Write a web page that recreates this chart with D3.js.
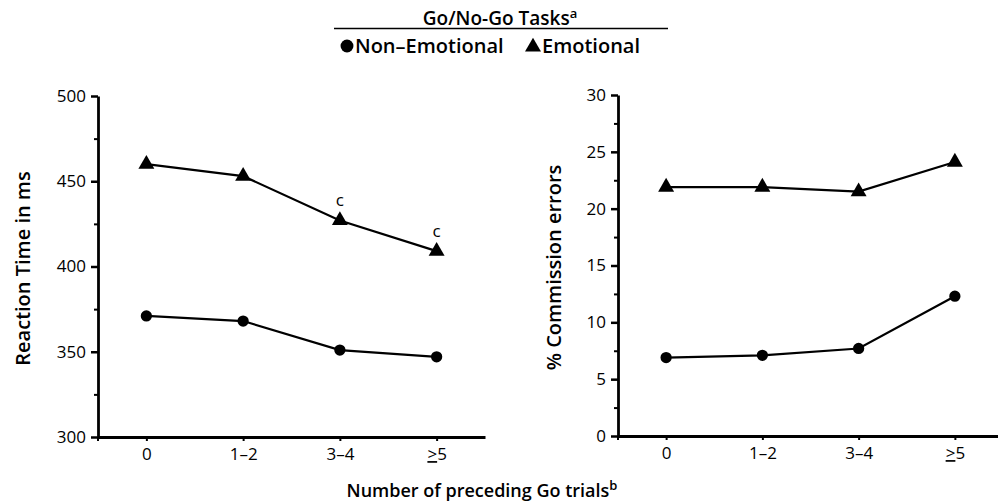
<!DOCTYPE html>
<html>
<head>
<meta charset="utf-8">
<script src="https://cdn.jsdelivr.net/npm/d3@7"></script>
<style>
  body { margin: 0; background: #fff; }
  text { font-family: "Open Sans", "DejaVu Sans", sans-serif; fill: #000; }
</style>
</head>
<body>
<svg id="chart"></svg>
<script>
let categories = ["0", "1-2", "3-4", ">=5"];
let rtNonEmotional = [371, 368, 351, 347];
let rtEmotional = [460, 453, 427, 409];
let errNonEmotional = [6.9, 7.1, 7.7, 12.3];
let errEmotional = [21.9, 21.9, 21.5, 24.1];
let rtTicks = [300, 350, 400, 450, 500];
let errTicks = [0, 5, 10, 15, 20, 25, 30];
let rtMarks = [false, false, true, true]; // "c" above emotional points

function drawPanel(svg, opt) {
    let x = d3.scalePoint()
        .domain(categories)
        .range([opt.left, opt.right])
        .padding(0.5);
    let y = d3.scaleLinear()
        .domain(opt.domain)
        .range([opt.bottom, opt.top]);

    let g = svg.append("g");

    // minor ticks
    let minor = [];
    for (let i = 0; i < opt.ticks.length - 1; i++) minor.push((opt.ticks[i] + opt.ticks[i + 1]) / 2);
    g.append("g")
        .attr("transform", `translate(${opt.left},0)`)
        .call(d3.axisLeft(y).tickValues(minor).tickSize(4).tickFormat(""))
        .call(a => a.select(".domain").remove())
        .selectAll("line").attr("stroke-width", 2);

    let yAxis = g.append("g")
        .attr("transform", `translate(${opt.left},0)`)
        .call(d3.axisLeft(y).tickValues(opt.ticks).tickSize(7).tickSizeOuter(0).tickPadding(5));
    yAxis.select(".domain").attr("stroke-width", 2.8);
    yAxis.selectAll("line").attr("stroke-width", 2.5);
    yAxis.selectAll("text").style("font-size", "17px").attr("fill", "#000");

    let xAxis = g.append("g")
        .attr("transform", `translate(0,${opt.bottom})`)
        .call(d3.axisBottom(x).tickSize(4).tickSizeOuter(0).tickPadding(7));
    xAxis.select(".domain").attr("stroke-width", 2.8);
    xAxis.selectAll("line").attr("stroke-width", 2);
    xAxis.selectAll("text").style("font-size", "17px").attr("fill", "#000")
        .each(function(d) {
            if (d === ">=5") {
                let t = d3.select(this).text(null);
                t.append("tspan").attr("text-decoration", "underline").text(">");
                t.append("tspan").text("5");
            } else {
                d3.select(this).text(d.replace("-", "\u2013"));
            }
        });
    g.append("line")
        .attr("x1", opt.left).attr("x2", opt.left)
        .attr("y1", opt.bottom).attr("y2", opt.bottom + 4)
        .attr("stroke", "#000").attr("stroke-width", 2);

    let line = d3.line().x((d, i) => x(categories[i])).y(d => y(d));
    let series = [
        { values: opt.nonEmo, symbol: d3.symbolCircle, size: 100 },
        { values: opt.emo, symbol: d3.symbolTriangle, size: 110 }
    ];
    series.forEach(s => {
        g.append("path")
            .attr("d", line(s.values))
            .attr("fill", "none")
            .attr("stroke", "#000")
            .attr("stroke-width", 2.2);
        g.selectAll(null)
            .data(s.values)
            .enter().append("path")
            .attr("transform", (d, i) => `translate(${x(categories[i])},${y(d)})`)
            .attr("d", d3.symbol().type(s.symbol).size(s.size)())
            .attr("fill", "#000");
    });

    if (opt.marks) {
        g.selectAll(null)
            .data(opt.emo.map((v, i) => ({ v: v, i: i })).filter(d => opt.marks[d.i]))
            .enter().append("text")
            .attr("x", d => x(categories[d.i]))
            .attr("y", d => y(d.v) - 14)
            .attr("text-anchor", "middle")
            .style("font-size", "17px")
            .text("c");
    }

    svg.append("text")
        .attr("transform", `translate(${opt.titleX},${(opt.top + opt.bottom) / 2 + 2}) rotate(-90)`)
        .attr("text-anchor", "middle")
        .style("font-size", "20px")
        .style("font-weight", 600)
        .text(opt.title);
}

function createChart() {
    let w = 998, h = 504;
    let svg = d3.select("#chart").attr("width", w).attr("height", h);

    drawPanel(svg, {
        left: 98, right: 485, top: 96, bottom: 437,
        domain: [300, 500], ticks: rtTicks,
        nonEmo: rtNonEmotional, emo: rtEmotional, marks: rtMarks,
        title: "Reaction Time in ms", titleX: 30
    });
    drawPanel(svg, {
        left: 618, right: 1003, top: 95, bottom: 436,
        domain: [0, 30], ticks: errTicks,
        nonEmo: errNonEmotional, emo: errEmotional, marks: null,
        title: "% Commission errors", titleX: 561
    });

    // header
    let head = svg.append("text")
        .attr("x", 500).attr("y", 25)
        .attr("text-anchor", "middle")
        .style("font-size", "19px")
        .style("font-weight", 600);
    head.append("tspan").text("Go/No-Go Tasks");
    head.append("tspan").attr("dy", -7).style("font-size", "13px").text("a");
    svg.append("line")
        .attr("x1", 334).attr("x2", 668).attr("y1", 28.5).attr("y2", 28.5)
        .attr("stroke", "#000").attr("stroke-width", 1.5);

    svg.append("path")
        .attr("transform", "translate(347,46)")
        .attr("d", d3.symbol().type(d3.symbolCircle).size(130)());
    svg.append("text").attr("x", 355).attr("y", 53)
        .style("font-size", "20px").style("font-weight", 600)
        .text("Non\u2013Emotional");
    svg.append("path")
        .attr("transform", "translate(533,47)")
        .attr("d", d3.symbol().type(d3.symbolTriangle).size(110)());
    svg.append("text").attr("x", 542).attr("y", 53)
        .style("font-size", "20px").style("font-weight", 600)
        .text("Emotional");

    // x title
    let xt = svg.append("text")
        .attr("x", 482).attr("y", 497)
        .attr("text-anchor", "middle")
        .style("font-size", "18px")
        .style("font-weight", 600);
    xt.append("tspan").text("Number of preceding Go trials");
    xt.append("tspan").attr("dy", -7).style("font-size", "13px").text("b");
}

window.onload = function() {
    createChart();
};
</script>
</body>
</html>
